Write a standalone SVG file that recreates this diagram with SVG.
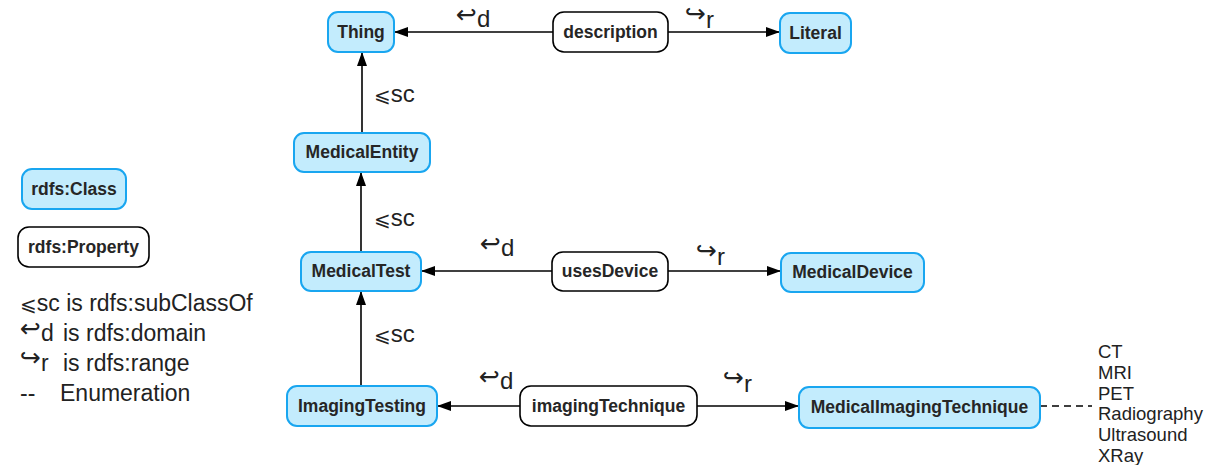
<svg xmlns="http://www.w3.org/2000/svg" width="1214" height="465" viewBox="0 0 1214 465">
<defs>
<marker id="ah" viewBox="0 0 14 10" refX="14" refY="5" markerWidth="14" markerHeight="10" markerUnits="userSpaceOnUse" orient="auto">
<path d="M0,0 L14,5 L0,10 Z" fill="#000"/>
</marker>
<style>
.cls rect{fill:#c3ecfd;stroke:#19a6f0;stroke-width:2}
.prop rect{fill:#fff;stroke:#000;stroke-width:1.6}
.nt{font-family:"Liberation Sans",Arial,sans-serif;font-weight:bold;font-size:17.5px;fill:#262626;text-anchor:middle}
.conn line{stroke:#000;stroke-width:1.6;fill:none}
.dash{stroke-dasharray:7,5}
.el{font-family:"Liberation Sans","DejaVu Sans",sans-serif;font-size:24px;fill:#222}
.sm{font-family:"DejaVu Sans",sans-serif;font-size:20px}
.ar{font-family:"DejaVu Sans",sans-serif;font-size:25px}
.lg{font-family:"Liberation Sans","DejaVu Sans",sans-serif;font-size:23px;fill:#222}
.en{font-family:"Liberation Sans",Arial,sans-serif;font-size:18.5px;fill:#222}
</style>
</defs>

<g id="connectors" class="conn">
<line x1="553" y1="32" x2="394" y2="32" marker-end="url(#ah)"/>
<line x1="668" y1="32" x2="780" y2="32" marker-end="url(#ah)"/>
<line x1="362" y1="133" x2="362" y2="52" marker-end="url(#ah)"/>
<line x1="361" y1="252" x2="361" y2="172" marker-end="url(#ah)"/>
<line x1="361" y1="386" x2="361" y2="291" marker-end="url(#ah)"/>
<line x1="552" y1="271" x2="421" y2="271" marker-end="url(#ah)"/>
<line x1="668" y1="271" x2="781" y2="271" marker-end="url(#ah)"/>
<line x1="520" y1="406" x2="437" y2="406" marker-end="url(#ah)"/>
<line x1="697" y1="406" x2="799" y2="406" marker-end="url(#ah)"/>
<line class="dash" x1="1040" y1="406" x2="1092" y2="406"/>
</g>

<g id="edge-labels">
<text class="el" x="456" y="27"><tspan class="ar" dy="-4">↩</tspan><tspan dy="4">d</tspan></text>
<text class="el" x="685" y="28"><tspan class="ar" dy="-6">↪</tspan><tspan dy="6">r</tspan></text>
<text class="el" x="374" y="102"><tspan class="sm">⩽</tspan>sc</text>
<text class="el" x="374" y="226"><tspan class="sm">⩽</tspan>sc</text>
<text class="el" x="374" y="342"><tspan class="sm">⩽</tspan>sc</text>
<text class="el" x="480" y="256"><tspan class="ar" dy="-4">↩</tspan><tspan dy="4">d</tspan></text>
<text class="el" x="696" y="265"><tspan class="ar" dy="-6">↪</tspan><tspan dy="6">r</tspan></text>
<text class="el" x="479" y="389"><tspan class="ar" dy="-4">↩</tspan><tspan dy="4">d</tspan></text>
<text class="el" x="723" y="392"><tspan class="ar" dy="-6">↪</tspan><tspan dy="6">r</tspan></text>
</g>

<g id="Thing" class="cls"><rect x="328" y="12" width="66" height="40" rx="10"/><text class="nt" x="361" y="38">Thing</text></g>
<g id="description" class="prop"><rect x="553" y="12" width="115" height="40" rx="11"/><text class="nt" x="610.5" y="38">description</text></g>
<g id="Literal" class="cls"><rect x="780" y="13" width="71" height="40" rx="10"/><text class="nt" x="815.5" y="39">Literal</text></g>
<g id="MedicalEntity" class="cls"><rect x="294" y="133" width="136" height="39" rx="10"/><text class="nt" x="362" y="158">MedicalEntity</text></g>
<g id="MedicalTest" class="cls"><rect x="301" y="252" width="120" height="39" rx="10"/><text class="nt" x="361" y="277">MedicalTest</text></g>
<g id="usesDevice" class="prop"><rect x="552" y="252" width="116" height="39" rx="11"/><text class="nt" x="610" y="277">usesDevice</text></g>
<g id="MedicalDevice" class="cls"><rect x="781" y="253" width="143" height="39" rx="10"/><text class="nt" x="852.5" y="278">MedicalDevice</text></g>
<g id="ImagingTesting" class="cls"><rect x="287" y="386" width="150" height="40" rx="10"/><text class="nt" x="362" y="412">ImagingTesting</text></g>
<g id="imagingTechnique" class="prop"><rect x="520" y="386" width="177" height="40" rx="11"/><text class="nt" x="608.5" y="412">imagingTechnique</text></g>
<g id="MedicalImagingTechnique" class="cls"><rect x="799" y="387" width="241" height="41" rx="10"/><text class="nt" x="919.5" y="413">MedicalImagingTechnique</text></g>

<g id="enumeration">
<text class="en" x="1098" y="358">CT</text>
<text class="en" x="1098" y="379">MRI</text>
<text class="en" x="1098" y="400">PET</text>
<text class="en" x="1098" y="420">Radiography</text>
<text class="en" x="1098" y="441">Ultrasound</text>
<text class="en" x="1098" y="462">XRay</text>
</g>

<g id="legend">
<g id="legend-class" class="cls"><rect x="22" y="169" width="104" height="40" rx="10"/><text class="nt" x="74" y="195">rdfs:Class</text></g>
<g id="legend-property" class="prop"><rect x="18" y="227" width="131" height="40" rx="11"/><text class="nt" x="83.5" y="253">rdfs:Property</text></g>
<text class="lg" x="20" y="311"><tspan class="sm">⩽</tspan>sc is rdfs:subClassOf</text>
<text class="lg" x="20" y="341"><tspan class="ar" dy="-4">↩</tspan><tspan dy="4">d</tspan><tspan x="63">is rdfs:domain</tspan></text>
<text class="lg" x="20" y="371"><tspan class="ar" dy="-5">↪</tspan><tspan dy="5">r</tspan><tspan x="63">is rdfs:range</tspan></text>
<text class="lg" x="20" y="401">--<tspan x="60">Enumeration</tspan></text>
</g>
</svg>
